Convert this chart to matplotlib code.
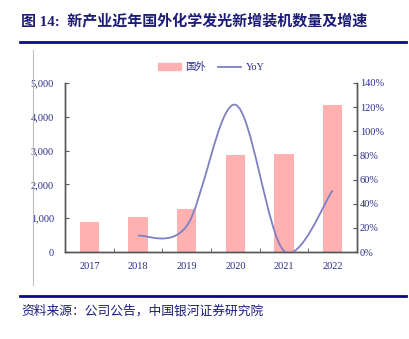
import matplotlib
matplotlib.use("Agg")
import matplotlib.pyplot as plt
from matplotlib.path import Path
from matplotlib.patches import PathPatch, Patch
from matplotlib.lines import Line2D
from matplotlib.ticker import FuncFormatter, FixedLocator

# Data
years = ["2017", "2018", "2019", "2020", "2021", "2022"]
installs = [880, 1025, 1280, 2865, 2885, 4350]
yoy_years = [1, 2, 3, 4, 5]          # positions of 2018..2022
yoy = [0.135, 0.215, 1.22, 0.01, 0.51]

title = "图 14:  新产业近年国外化学发光新增装机数量及增速"
source = "资料来源：公司公告，中国银河证券研究院"

navy = "#2b2b8c"
bar_color = "#ffb1b1"
line_color = "#7f7fc4"
spine_color = "#555555"

plt.rcParams['font.family'] = ['Liberation Serif', 'Noto Sans CJK SC']

fig = plt.figure(figsize=(4.10, 3.39), dpi=100)
ax = fig.add_axes([0.1585, 0.2566, 0.7122, 0.4986])
ax2 = ax.twinx()

x = list(range(len(years)))
ax.bar(x, installs, width=0.4, color=bar_color, zorder=2)
ax.set_xlim(-0.5, len(years) - 0.5)
ax.set_ylim(0, 5000)
ax.set_yticks(range(0, 5001, 1000))
ax.yaxis.set_major_formatter(FuncFormatter(lambda v, p: f"{int(v):,}"))
ax.set_xticks(x)
ax.set_xticklabels(years)
ax.xaxis.set_minor_locator(FixedLocator([i + 0.5 for i in range(len(years) - 1)]))
ax.tick_params(axis='x', which='major', length=0, pad=7, labelsize=7.5, labelcolor=navy)
ax.tick_params(axis='x', which='minor', direction='in', length=3, color=spine_color)
ax.tick_params(axis='y', direction='in', length=3, color=spine_color, labelsize=7.5,
               labelcolor=navy, pad=8)

# smoothed YoY line (Excel-style bezier through the points)
pts = list(zip(yoy_years, yoy))
verts = [pts[0]]
codes = [Path.MOVETO]
n = len(pts)
for i in range(n - 1):
    p0 = pts[i - 1] if i > 0 else pts[i]
    p1 = pts[i]
    p2 = pts[i + 1]
    p3 = pts[i + 2] if i + 2 < n else pts[i + 1]
    c1 = (p1[0] + (p2[0] - p0[0]) / 6, p1[1] + (p2[1] - p0[1]) / 6)
    c2 = (p2[0] - (p3[0] - p1[0]) / 6, p2[1] - (p3[1] - p1[1]) / 6)
    verts += [c1, c2, p2]
    codes += [Path.CURVE4] * 3
ax2.add_patch(PathPatch(Path(verts, codes), facecolor='none', edgecolor=line_color,
                        lw=1.3, zorder=3))
ax2.set_ylim(0, 1.4)
ax2.set_yticks([i * 0.2 for i in range(8)])
ax2.yaxis.set_major_formatter(FuncFormatter(lambda v, p: f"{v * 100:.0f}%"))
ax2.tick_params(axis='y', direction='in', length=3, color=spine_color, labelsize=7.5,
                labelcolor=navy, pad=2)

for a in (ax, ax2):
    a.spines['top'].set_visible(False)
    for s in ('left', 'right', 'bottom'):
        a.spines[s].set_color(spine_color)
        a.spines[s].set_linewidth(1.0)

handles = [Patch(color=bar_color), Line2D([0], [0], color=line_color, lw=1.3)]
fig.legend(handles, ["国外", "YoY"], loc='center', bbox_to_anchor=(0.515, 0.802),
           ncol=2, frameon=False, fontsize=7.5, handlelength=2.2, handleheight=0.6,
           columnspacing=1.2, handletextpad=0.4, labelcolor=navy)

# title, rules and source
fig.text(0.051, 0.94, title, fontsize=10.8, fontweight='bold', color='#1c1c78',
         va='center', ha='left', family=['Liberation Serif', 'Noto Sans CJK SC'])
fig.add_artist(Line2D([0.049, 0.99], [1 - 41.7 / 339] * 2, color='#0a0a8a', lw=2))
fig.add_artist(Line2D([0.049, 0.99], [1 - 295.7 / 339] * 2, color='#0a0a8a', lw=2))
fig.add_artist(Line2D([33 / 410] * 2, [1 - 50 / 339, 1 - 285 / 339], color='#bbbbbb', lw=0.8))
fig.text(0.051, 1 - 311 / 339, source, fontsize=9.2, color='#1c1c78', va='center',
         ha='left', family=['Noto Sans CJK SC'], style='italic')

fig.savefig("out.png", dpi=100)
